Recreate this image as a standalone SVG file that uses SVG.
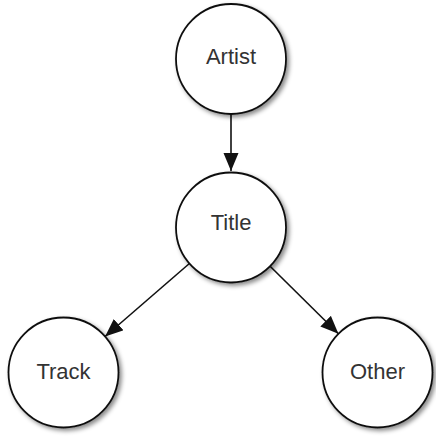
<svg xmlns="http://www.w3.org/2000/svg" width="436" height="438" viewBox="0 0 436 438">
<style>
.node circle{fill:#fff;stroke:#111;stroke-width:1.8;filter:url(#sh)}
.node text{font-family:"Liberation Sans",Arial,sans-serif;font-size:22px;fill:#333;text-anchor:middle}
.edge{stroke:#111;stroke-width:1.6;fill:none;marker-end:url(#ah)}
</style>
<defs>
<filter id="sh" x="-20%" y="-20%" width="150%" height="150%">
<feDropShadow dx="2.5" dy="2.5" stdDeviation="2" flood-color="#000" flood-opacity="0.45"/>
</filter>
<marker id="ah" markerUnits="userSpaceOnUse" markerWidth="20" markerHeight="16" refX="18" refY="7.5" orient="auto">
<path d="M0,0 L18,7.5 L0,15 z" fill="#111"/>
</marker>
</defs>
<rect width="436" height="438" fill="#fff"/>
<g id="connectors">
<line class="edge" x1="231" y1="114" x2="231" y2="171"/>
<line class="edge" x1="189.4" y1="263.5" x2="105.1" y2="336.5"/>
<line class="edge" x1="270.1" y1="266.2" x2="338.4" y2="333.8"/>
</g>
<g id="artist" class="node"><circle cx="231" cy="59" r="55"/><text x="231" y="63.5">Artist</text></g>
<g id="title" class="node"><circle cx="231" cy="227.5" r="55"/><text x="231" y="229.5">Title</text></g>
<g id="track" class="node"><circle cx="63.5" cy="372.5" r="55"/><text x="63.5" y="378.5">Track</text></g>
<g id="other" class="node"><circle cx="377.5" cy="372.5" r="55"/><text x="377.5" y="378.5">Other</text></g>
</svg>
